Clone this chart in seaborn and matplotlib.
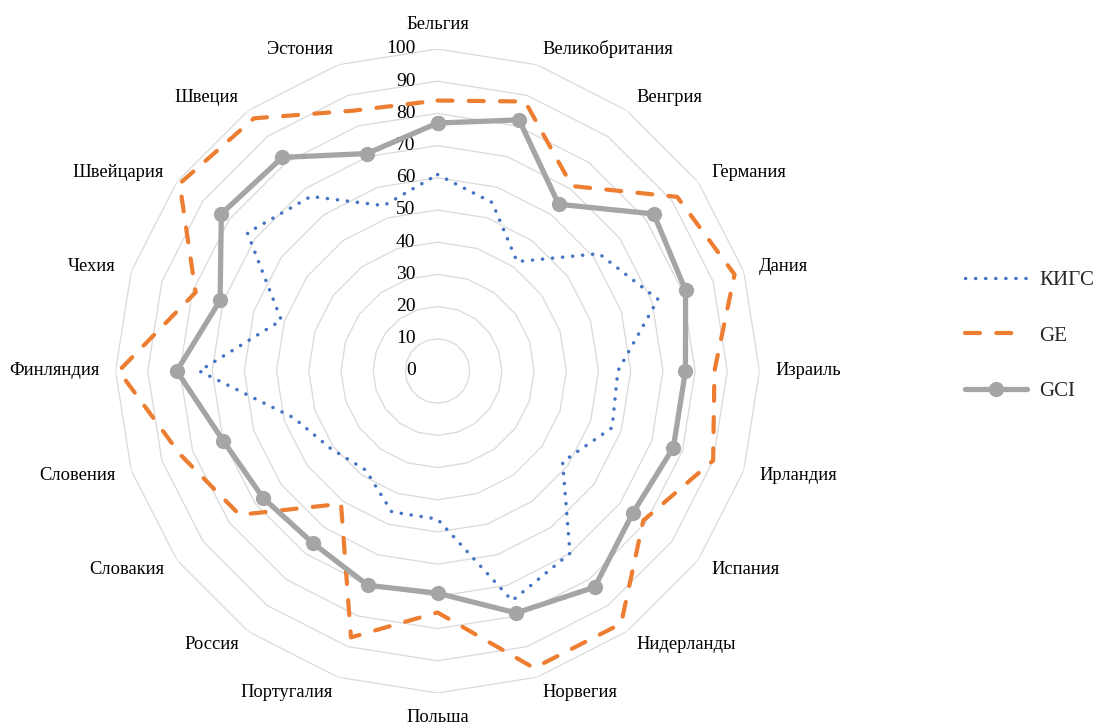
import numpy as np
import pandas as pd
import seaborn as sns
import matplotlib
matplotlib.use('Agg')
import matplotlib.pyplot as plt

# values
countries = ['Бельгия', 'Великобритания', 'Венгрия', 'Германия', 'Дания', 'Израиль',
             'Ирландия', 'Испания', 'Нидерланды', 'Норвегия', 'Польша', 'Португалия',
             'Россия', 'Словакия', 'Словения', 'Финляндия', 'Чехия', 'Швейцария',
             'Швеция', 'Эстония']
kigs = [61, 55, 42, 62, 72, 56, 57, 48, 70, 75, 46, 46, 38, 41, 47, 74, 51, 73, 67, 54]
ge = [84, 88, 71, 92, 97, 86, 90, 79, 97, 97, 75, 87, 51, 76, 84, 99, 79, 99, 97, 85]
gci = [77, 82, 64, 83, 81, 77, 77, 75, 83, 79, 69, 70, 66, 67, 70, 81, 71, 83, 82, 71]
rings = [0, 10, 20, 30, 40, 50, 60, 70, 80, 90, 100]

sns.set_style('white')
plt.rcParams['font.family'] = ['Liberation Serif', 'DejaVu Serif']

n = len(countries)
theta = np.linspace(0, 2 * np.pi, n, endpoint=False)
theta_closed = np.append(theta, 2 * np.pi)

def closed(vals):
    return pd.DataFrame({'theta': theta_closed, 'value': list(vals) + [vals[0]]})

fig = plt.figure(figsize=(10.96, 7.27), dpi=100)
ax = fig.add_axes([0.1054, 0.0468, 0.5876, 0.8858], projection='polar')
ax.set_theta_zero_location('N')
ax.set_theta_direction(-1)

# polygon grid like Excel
for r in rings[1:]:
    ax.plot(theta_closed, [r] * (n + 1), color='#d9d9d9', lw=0.9, zorder=1)

sns.lineplot(data=closed(kigs), x='theta', y='value', sort=False, estimator=None, ax=ax,
             color='#4472c4', lw=2.5, linestyle=(0, (0.05, 2.85)), dash_capstyle='round',
             label='КИГС', zorder=3)
sns.lineplot(data=closed(ge), x='theta', y='value', sort=False, estimator=None, ax=ax,
             color='#ed7d31', lw=3.0, linestyle=(0, (3.6, 3.9)), dash_capstyle='round',
             label='GE', zorder=4)
sns.lineplot(data=closed(gci), x='theta', y='value', sort=False, estimator=None, ax=ax,
             color='#a5a5a5', lw=3.8, marker='o', markersize=11, markeredgewidth=0,
             label='GCI', zorder=5)

ax.set_ylim(0, 100)
ax.set_xticks([])
ax.set_yticks([])
ax.grid(False)
ax.spines['polar'].set_visible(False)
ax.set_xlabel('')
ax.set_ylabel('')

for r in rings:
    ax.annotate(str(r), xy=(0, r), xytext=(-22, 0), textcoords='offset pixels',
                ha='right', va='center', fontsize=14, color='#000000')

for t, name in zip(theta, countries):
    s, c = np.sin(t), np.cos(t)
    ha = 'center' if abs(s) < 0.01 else ('left' if s > 0 else 'right')
    if c > 0.99:
        va = 'bottom'
    elif c < -0.99:
        va = 'top'
    else:
        va = 'center'
    ax.text(t, 105, name, ha=ha, va=va, fontsize=13.3, color='#000000')

handles, labels = ax.get_legend_handles_labels()
ax.legend_.remove()
fig.legend(handles, labels, loc='center left', bbox_to_anchor=(0.863, 0.538),
           frameon=False, fontsize=15, handlelength=3.0, labelspacing=1.72,
           handletextpad=0.6, numpoints=1)

fig.savefig('out.png', dpi=100)
